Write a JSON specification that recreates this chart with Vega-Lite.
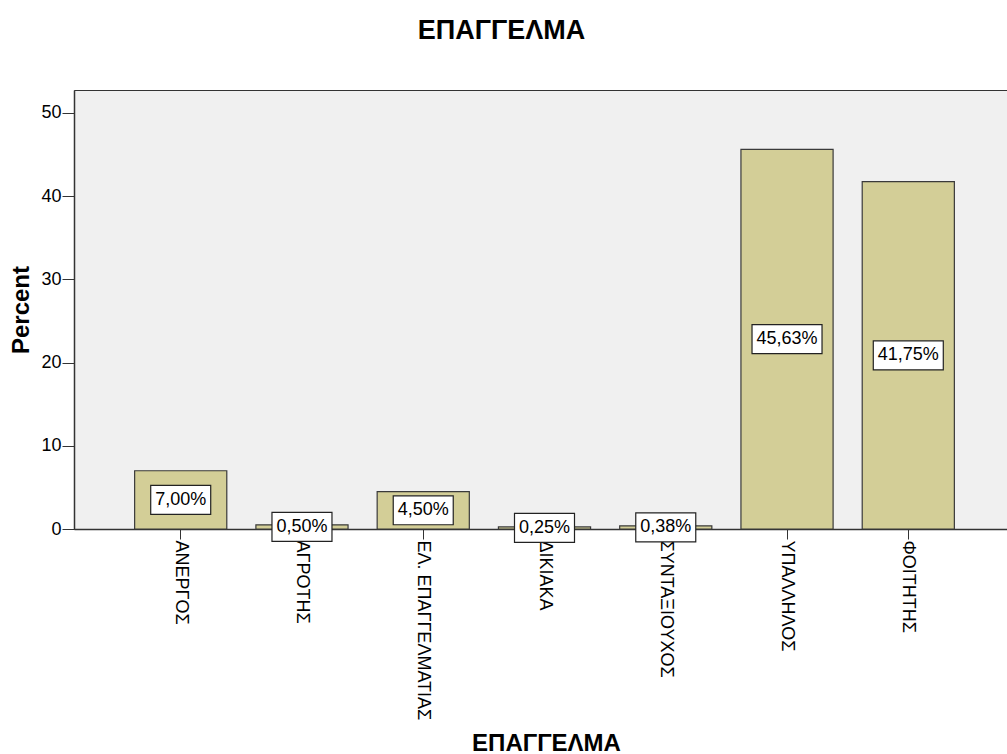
{
  "$schema": "https://vega.github.io/schema/vega-lite/v6.json",
  "autosize": {"type": "none"},
  "padding": {"left": 74, "top": 90, "right": 0, "bottom": 225},
  "width": 933,
  "height": 439,
  "background": "#ffffff",
  "title": {
    "text": "ΕΠΑΓΓΕΛΜΑ",
    "font": "Liberation Sans",
    "fontSize": 27,
    "fontWeight": "bold",
    "color": "#000000",
    "anchor": "middle",
    "dx": -39,
    "offset": 45
  },
  "config": {
    "view": {"fill": "#f0f0f0", "stroke": "#333333", "strokeWidth": 1},
    "font": "Liberation Sans"
  },
  "data": {
    "values": [
      {"cat": "ΑΝΕΡΓΟΣ", "pct": 7.00, "label": "7,00%"},
      {"cat": "ΑΓΡΟΤΗΣ", "pct": 0.50, "label": "0,50%"},
      {"cat": "ΕΛ. ΕΠΑΓΓΕΛΜΑΤΙΑΣ", "pct": 4.50, "label": "4,50%"},
      {"cat": "ΔΙΚΙΑΚΑ", "pct": 0.25, "label": "0,25%"},
      {"cat": "ΣΥΝΤΑΞΙΟΥΧΟΣ", "pct": 0.38, "label": "0,38%"},
      {"cat": "ΥΠΑΛΛΗΛΟΣ", "pct": 45.63, "label": "45,63%"},
      {"cat": "ΦΟΙΤΗΤΗΣ", "pct": 41.75, "label": "41,75%"}
    ]
  },
  "encoding": {
    "x": {
      "field": "cat",
      "type": "nominal",
      "sort": null,
      "scale": {"range": [0, 941], "paddingInner": 0.24, "paddingOuter": 0.5},
      "axis": {
        "title": "ΕΠΑΓΓΕΛΜΑ",
        "titleFont": "Liberation Sans",
        "titleFontSize": 24,
        "titleFontWeight": "bold",
        "titleColor": "#000000",
        "titleX": 472,
        "titleY": 214,
        "titleBaseline": "middle",
        "labelAngle": 90,
        "labelAlign": "left",
        "labelBaseline": "middle",
        "labelFont": "Liberation Sans",
        "labelFontSize": 18,
        "labelColor": "#000000",
        "labelPadding": 1,
        "labelOverlap": false,
        "labelLimit": 300,
        "tickSize": 10,
        "tickColor": "#333333",
        "domainColor": "#333333",
        "domainWidth": 1.5
      }
    }
  },
  "layer": [
    {
      "mark": {"type": "bar", "fill": "#d3ce97", "stroke": "#3a3a3a", "strokeWidth": 1.2},
      "encoding": {
        "y": {
          "field": "pct",
          "type": "quantitative",
          "scale": {"domain": [0, 52.76], "nice": false},
          "axis": {
            "title": "Percent",
            "titleFont": "Liberation Sans",
            "titleFontSize": 24,
            "titleFontWeight": "bold",
            "titleColor": "#000000",
            "titleX": -53,
            "titleY": 219.5,
            "titleAngle": -90,
            "titleAlign": "center",
            "titleBaseline": "middle",
            "values": [0, 10, 20, 30, 40, 50],
            "labelFont": "Liberation Sans",
            "labelFontSize": 18,
            "labelColor": "#000000",
            "labelPadding": 1,
            "tickSize": 12,
            "tickColor": "#333333",
            "domainColor": "#333333",
            "domainWidth": 1.5,
            "grid": false
          }
        }
      }
    },
    {
      "transform": [{"calculate": "datum.pct / 2", "as": "mid"}, {"filter": "datum.pct < 10"}],
      "mark": {
        "type": "point",
        "shape": "M-1,-0.483H1V0.483H-1Z",
        "size": 3600,
        "filled": true,
        "fill": "#ffffff",
        "stroke": "#222222",
        "strokeWidth": 1.2,
        "opacity": 1
      },
      "encoding": {"y": {"field": "mid", "type": "quantitative"}}
    },
    {
      "transform": [{"calculate": "datum.pct / 2", "as": "mid"}, {"filter": "datum.pct >= 10"}],
      "mark": {
        "type": "point",
        "shape": "M-1,-0.414H1V0.414H-1Z",
        "size": 4900,
        "filled": true,
        "fill": "#ffffff",
        "stroke": "#222222",
        "strokeWidth": 1.2,
        "opacity": 1
      },
      "encoding": {"y": {"field": "mid", "type": "quantitative"}}
    },
    {
      "transform": [{"calculate": "datum.pct / 2", "as": "mid"}],
      "mark": {"type": "text", "font": "Liberation Sans", "fontSize": 18, "color": "#000000", "baseline": "middle", "align": "center"},
      "encoding": {
        "y": {"field": "mid", "type": "quantitative"},
        "text": {"field": "label", "type": "nominal"}
      }
    }
  ]
}
